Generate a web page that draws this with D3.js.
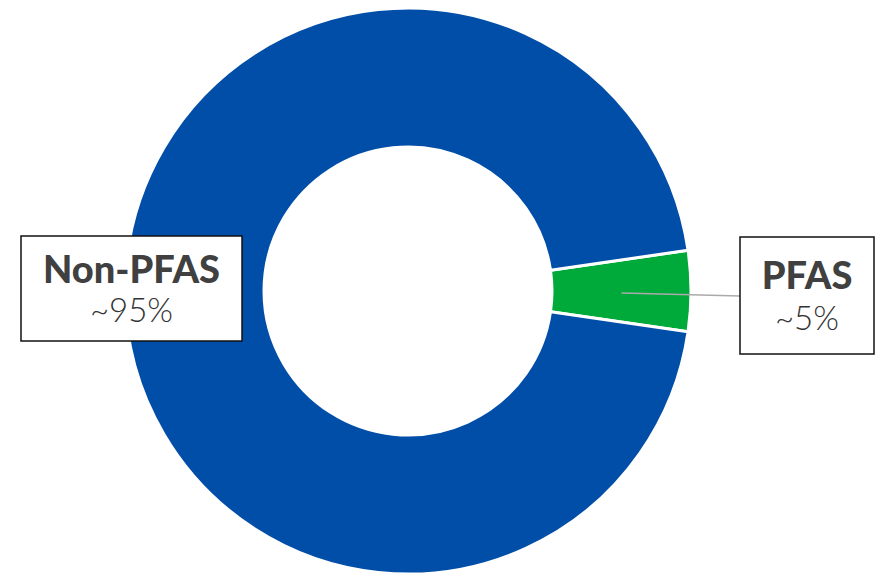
<!DOCTYPE html>
<html>
<head>
<meta charset="utf-8">
<script src="https://cdn.jsdelivr.net/npm/d3@7"></script>
<style>
  html, body { margin: 0; padding: 0; background: #fff; }
  svg { display: block; font-family: Lato, "Open Sans", sans-serif; }
</style>
</head>
<body>
<svg id="chart" width="880" height="578"></svg>
<script>
// data
const categories = ['PFAS', 'Non-PFAS']
const values = [4.6, 95.4]
const valueLabels = ['~5%', '~95%']
const colors = ['#00AA3A', '#004EA8']

const svg = d3.select('#chart')
const cx = 408
const cy = 291
const outerR = 283
const innerR = 144

// PFAS slice centred on the 3 o'clock direction
const startAngle = Math.PI / 2 - (values[0] / d3.sum(values)) * Math.PI
const pie = d3.pie()
  .sort(null)
  .value(d => d.value)
  .startAngle(startAngle)
  .endAngle(startAngle + 2 * Math.PI)
const arc = d3.arc().innerRadius(innerR).outerRadius(outerR)

const data = categories.map((c, i) => ({ name: c, value: values[i], label: valueLabels[i], color: colors[i] }))
const arcs = pie(data)

const g = svg.append('g').attr('transform', `translate(${cx},${cy})`)
g.selectAll('path')
  .data(arcs)
  .enter()
  .append('path')
  .attr('d', arc)
  .attr('fill', d => d.data.color)
  .attr('stroke', '#fff')
  .attr('stroke-width', 3)

// label boxes (layout only)
const boxes = {
  PFAS: { x: 740, y: 237, w: 134, h: 117, t1: 52, t2: 93 },
  'Non-PFAS': { x: 21, y: 236, w: 221, h: 105, t1: 47, t2: 86 },
}

// leader line for PFAS
const c = arc.centroid(arcs[0])
svg.append('line')
  .attr('x1', cx + c[0])
  .attr('y1', cy + c[1] + 2)
  .attr('x2', boxes.PFAS.x)
  .attr('y2', cy + c[1] + 5)
  .attr('stroke', '#aaa')
  .attr('stroke-width', 1.5)

arcs.forEach(a => {
  const b = boxes[a.data.name]
  const lg = svg.append('g')
  lg.append('rect')
    .attr('x', b.x)
    .attr('y', b.y)
    .attr('width', b.w)
    .attr('height', b.h)
    .attr('fill', '#fff')
    .attr('stroke', '#111')
    .attr('stroke-width', 1.5)
  const mx = b.x + b.w / 2
  lg.append('text')
    .attr('x', mx)
    .attr('y', b.y + b.t1)
    .attr('text-anchor', 'middle')
    .attr('font-size', 38)
    .attr('font-weight', 900)
    .attr('fill', '#404040')
    .text(a.data.name)
  lg.append('text')
    .attr('x', mx)
    .attr('y', b.y + b.t2)
    .attr('text-anchor', 'middle')
    .attr('font-size', 33)
    .attr('font-weight', 300)
    .attr('fill', '#333')
    .text(a.data.label)
})
</script>
</body>
</html>
